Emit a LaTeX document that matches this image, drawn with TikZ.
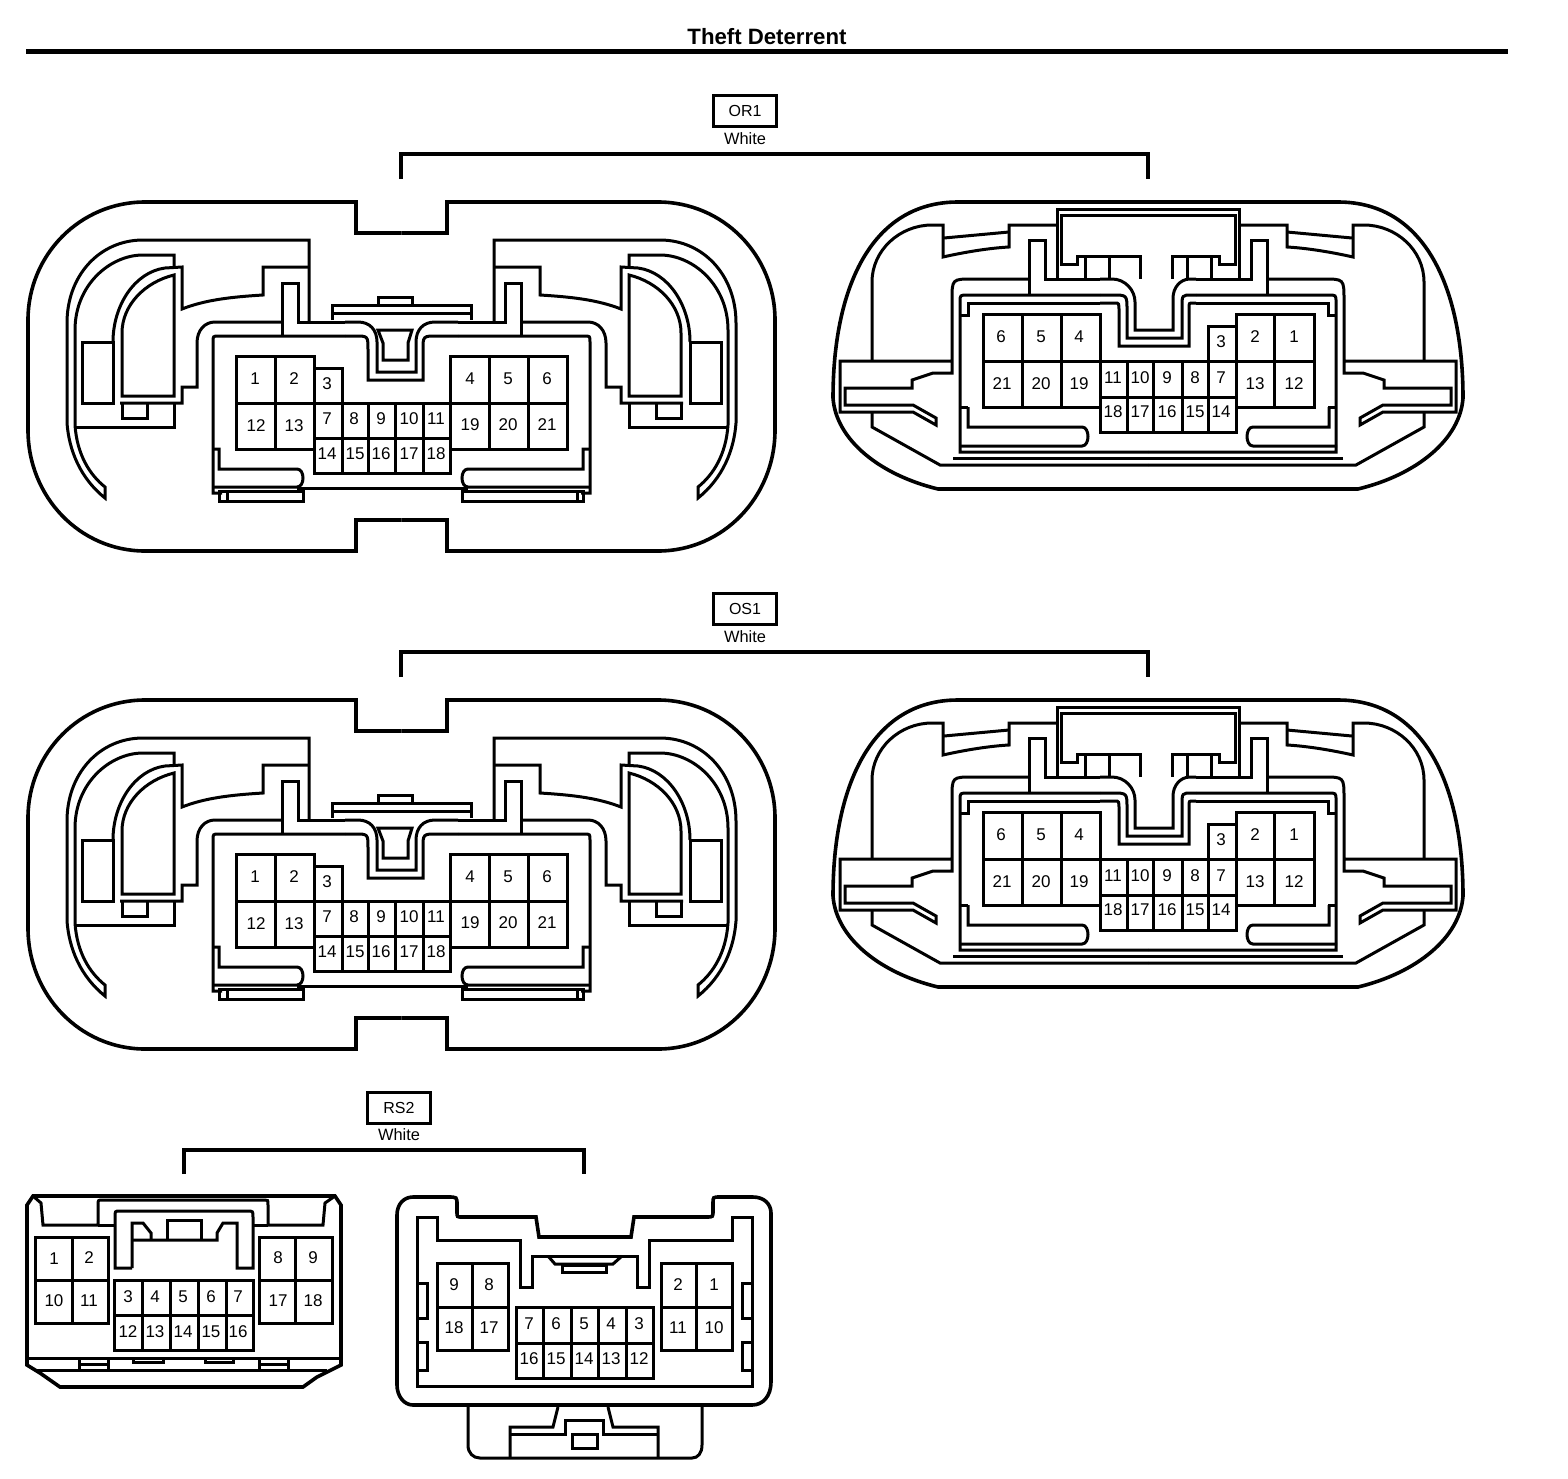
\documentclass[tikz,border=0pt]{standalone}
\usepackage{fontspec}
\setmainfont{Liberation Sans}
\tikzset{
  heavy/.style={line width=1.5pt, line join=miter},
  shell/.style={line width=1.8pt},
  bracket/.style={line width=2pt},
  cavity/.style={inner sep=0pt, font=\fontsize{8.5}{10}\selectfont},
  tagbox/.style={draw, line width=1.7pt, inner sep=0pt, minimum width=31.5pt, minimum height=15.5pt, font=\fontsize{8}{10}\selectfont},
  colour/.style={inner sep=0pt, font=\fontsize{8.2}{10}\selectfont}
}
\newcommand{\mirror}[2]{\begin{scope}[shift={(#1,0)},xscale=-1]#2\end{scope}}

% one half of the big connector, front
\newcommand{\halfA}{
\draw[shell] (401.5,233) -- (356,233) -- (356,202) -- (145,202) .. controls (80,202) and (28,255) .. (28,320) -- (28,430) .. controls (28,497) and (80,551) .. (145,551) -- (356,551) -- (356,520) -- (401.5,520);
\draw[heavy] (309,322) -- (309,240) -- (143,240) .. controls (100,240) and (67,275) .. (67,323) -- (67,423) .. controls (69,450) and (80,478) .. (105,498) -- (105,487) .. controls (90,475) and (77,455) .. (75,425) -- (75,330) .. controls (75,285) and (110,255) .. (143,255) -- (174,255) -- (174,268);
\draw[heavy] (113,342) .. controls (113,305) and (135,272) .. (165,268) -- (182,267) -- (182,309) .. controls (205,300) and (230,297) .. (263,295) -- (263,267) -- (309,267);
\draw[heavy] (82,342) rectangle (113,403);
\draw[heavy] (174,275) .. controls (145,282) and (122,305) .. (122,333) -- (122,396) -- (174,396) -- cycle;
\draw[heavy] (120,403) -- (182,403) -- (182,387) -- (197,387) -- (197,343) .. controls (197,330) and (205,322) .. (215,322) -- (282,322);
\draw[heavy] (122,403) -- (122,418) -- (147,418) -- (147,403);
\draw[heavy] (174,403) -- (174,427) -- (75,427);
\draw[heavy] (282,335) -- (282,283) -- (298,283) -- (298,322) -- (345,322);
\draw[heavy] (345,336) -- (219,336) .. controls (213,336) .. (213,342) -- (213,493) -- (222,493);
}
% cavities of the big connector, front
\newcommand{\cavitiesA}{
\draw[heavy] (236,356) rectangle (314,449);
\draw[heavy] (275,356) -- (275,449);
\draw[heavy] (236,403) -- (450,403);
\draw[heavy] (314,368) -- (342,368) -- (342,403);
\draw[heavy] (314,356) -- (314,473) -- (450,473) -- (450,356) -- (567,356) -- (567,449) -- (450,449);
\draw[heavy] (314,438) -- (450,438);
\draw[heavy] (489,356) -- (489,449);
\draw[heavy] (528,356) -- (528,449);
\draw[heavy] (450,403) -- (567,403);
\foreach \x in {342,368,395,423} \draw[heavy] (\x,403) -- (\x,473);
\foreach \n/\x/\y in {1/255/379,2/294/379,12/256/426,13/294/426,3/327/384,
  7/327/419,8/354/419,9/381/419,10/409/419,11/436/419,
  14/327/454,15/355/454,16/381/454,17/409/454,18/436/454,
  4/470/379,5/508/379,6/547/379,19/470/425,20/508/425,21/547/425}
  \node[cavity] (a\n) at (\x,\y) {\n};
}
\newcommand{\connA}{
\halfA
\mirror{803}{\halfA}
%slots
\draw[heavy] (213,449) -- (219,449) -- (219,469) -- (297,469) .. controls (305,469) and (305,487) .. (297,487) -- (213,487);
\draw[heavy] (590,449) -- (583,449) -- (583,469) -- (468,469) .. controls (460,469) and (460,487) .. (468,487) -- (590,487);
\draw[heavy] (297,488) -- (468,488);
\draw[heavy] (219,491) rectangle (303,501);
\draw[heavy] (227,491) -- (227,501);
\draw[heavy] (462,491) rectangle (583,501);
\draw[heavy] (577,491) -- (577,501);
%plug
\draw[heavy] (345,322) -- (358,322) .. controls (370,322) and (377,330) .. (377,342) -- (377,372) -- (416,372) -- (416,342) .. controls (416,330) and (423,322) .. (435,322) -- (458,322);
\draw[heavy] (345,336) -- (355,336) .. controls (368,336) .. (368,350) -- (368,380) -- (423,380) -- (423,350) .. controls (423,336) .. (437,336) -- (458,336);
\draw[heavy] (332,320) -- (332,305) -- (471,305) -- (471,320);
\draw[heavy] (332,313) -- (471,313);
\draw[heavy] (378,305) -- (378,297) -- (412,297) -- (412,305);
\draw[heavy] (378,330) -- (412,330) -- (408,343) -- (408,360) -- (383,360) -- (383,343) -- cycle;
\cavitiesA
}

% one half of the big connector, back
\newcommand{\halfB}{
\draw[shell] (1148,202) -- (958,202) .. controls (870,202) and (833,290) .. (833,398) .. controls (836,440) and (880,475) .. (938,489) -- (1148,489);
\draw[heavy] (872,361) -- (872,282) .. controls (872,250) and (900,225) .. (932,225) -- (943,225) -- (943,257) .. controls (965,252) and (990,248) .. (1009,247) -- (1009,225) -- (1057,225);
\draw[heavy] (944,238) -- (1009,232);
\draw[heavy] (1148,209) -- (1057,209) -- (1057,279);
\draw[heavy] (1148,215) -- (1061,215) -- (1061,264) -- (1077,264) -- (1077,256) -- (1109,256);
\draw[heavy] (1085,256) -- (1085,279);
\draw[heavy] (1109,256) -- (1109,279);
\draw[heavy] (1029,295) -- (1029,240) -- (1045,240) -- (1045,279) -- (1100,279);
\draw[heavy] (1029,279) -- (973,279) .. controls (952,279) .. (952,300) -- (952,373) -- (933,373) -- (912,380) -- (912,388) -- (845,388) -- (845,405) -- (913,405) -- (936,418) -- (936,425) -- (913,412) -- (840,412) -- (840,361) -- (952,361);
\draw[heavy] (872,413) -- (872,427) -- (940,465) -- (1148,465);
\draw[heavy] (1148,452) -- (960,452) -- (960,302) .. controls (960,295) .. (968,295) -- (1100,295);
\draw[heavy] (960,315) -- (968,315) -- (968,303) -- (1100,303);
\draw[heavy] (960,407) -- (968,407);
\draw[heavy] (953,458) -- (1148,458);
}
% cavities of the big connector, back
\newcommand{\cavitiesB}{
\draw[heavy] (983,314) rectangle (1100,407);
\draw[heavy] (1022,314) -- (1022,407);
\draw[heavy] (1061,314) -- (1061,407);
\draw[heavy] (983,361) -- (1314,361);
\draw[heavy] (1100,361) -- (1100,432) -- (1236,432) -- (1236,314) -- (1314,314) -- (1314,407) -- (1236,407);
\draw[heavy] (1274,314) -- (1274,407);
\draw[heavy] (1208,361) -- (1208,326) -- (1236,326);
\draw[heavy] (1100,397) -- (1236,397);
\foreach \x in {1127,1153,1182,1208} \draw[heavy] (\x,361) -- (\x,432);
\foreach \n/\x/\y in {6/1001/337,5/1041/337,4/1079/337,21/1002/384,20/1041/384,19/1079/384,
  11/1113/378,10/1140/378,9/1167/378,8/1195/378,7/1221/378,
  18/1113/412,17/1140/412,16/1167/412,15/1195/412,14/1221/412,
  3/1221/342,2/1255/337,1/1294/337,13/1255/384,12/1294/384}
  \node[cavity] (b\n) at (\x,\y) {\n};
}
\newcommand{\connB}{
\halfB
\mirror{2296}{\halfB}
%slots
\draw[heavy] (968,407) -- (968,427) -- (1082,427) .. controls (1090,427) and (1090,446) .. (1082,446) -- (960,446);
\draw[heavy] (1329,407) -- (1329,427) -- (1253,427) .. controls (1245,427) and (1245,446) .. (1253,446) -- (1337,446);
%latch
\draw[heavy] (1109,256) -- (1140,256) -- (1140,279);
\draw[heavy] (1187,256) -- (1172,256) -- (1172,279);
\draw[heavy] (1100,279) -- (1112,279) .. controls (1125,279) and (1135,290) .. (1135,302) -- (1135,330) -- (1173,330) -- (1173,298) .. controls (1173,288) and (1180,279) .. (1190,279) -- (1196,279);
\draw[heavy] (1100,295) -- (1112,295) .. controls (1127,295) .. (1127,310) -- (1127,338) -- (1182,338) -- (1182,307) .. controls (1182,295) .. (1192,295) -- (1196,295);
\draw[heavy] (1100,303) -- (1115,303) .. controls (1119,303) .. (1119,312) -- (1119,346) -- (1189,346) -- (1189,308) .. controls (1189,303) .. (1193,303) -- (1196,303);
\cavitiesB
}

\begin{document}
\begin{tikzpicture}[x=0.5pt,y=-0.5pt]
\useasboundingbox (0,0) rectangle (1568,1478);
\node[inner sep=0pt, font=\fontsize{11.1}{14}\bfseries\selectfont] (title) at (767,37) {Theft Deterrent};
\coordinate (ruleL) at (26,51.5);
\coordinate (ruleR) at (1508,51.5);
\draw[line width=2.3pt] (ruleL) -- (ruleR);
%OR1
\node[tagbox] (or1) at (745,111) {OR1};
\node[colour] (or1c) at (745,139) {White};
\coordinate (or1L) at (401,179);
\coordinate (or1R) at (1148,179);
\draw[bracket] (or1L) -- (401,154) -- (1148,154) -- (or1R);
\begin{scope}[name prefix=or1-]
\connA
\connB
\end{scope}
%OS1
\node[tagbox] (os1) at (745,609) {OS1};
\node[colour] (os1c) at (745,637) {White};
\coordinate (os1L) at (401,677);
\coordinate (os1R) at (1148,677);
\draw[bracket] (os1L) -- (401,652) -- (1148,652) -- (os1R);
\begin{scope}[shift={(0,498)},name prefix=os1-]
\connA
\connB
\end{scope}
%RS2
\node[tagbox] (rs2) at (399,1108) {RS2};
\node[colour] (rs2c) at (399,1135) {White};
\coordinate (rs2L) at (184,1174);
\coordinate (rs2R) at (584,1174);
\draw[bracket] (rs2L) -- (184,1150) -- (584,1150) -- (rs2R);
%RS2 left
\draw[shell] (27,1205) -- (33,1196) -- (335,1196) -- (341,1205) -- (341,1365) -- (317,1377) -- (303,1387) -- (60,1387) -- (40,1373) -- (27,1365) -- cycle;
\draw[heavy] (27,1358) -- (341,1358);
\draw[heavy] (37,1370) -- (327,1370);
\draw[heavy] (33,1196) -- (41,1203) -- (43,1225) -- (98,1225) -- (98,1205) .. controls (98,1200) .. (103,1200) -- (265,1200) .. controls (268,1200) .. (268,1205) -- (268,1225) -- (323,1225) -- (325,1203) -- (335,1196);
\draw[heavy] (98,1225) -- (115,1225);
\draw[heavy] (253,1225) -- (268,1225);
\draw[heavy] (132,1268) -- (115,1268) -- (115,1217) .. controls (115,1211) .. (120,1211) -- (247,1211) .. controls (253,1211) .. (253,1217) -- (253,1268) -- (237,1268) -- (237,1223) -- (223,1223) -- (217,1233) -- (217,1240) -- (132,1240);
\draw[heavy] (132,1268) -- (132,1223) -- (143,1223) -- (151,1233) -- (151,1240);
\draw[heavy] (167,1240) -- (167,1220) -- (201,1220) -- (201,1240);
\draw[heavy] (79,1358) rectangle (108,1370);
\draw[heavy] (79,1364) -- (108,1364);
\draw[heavy] (259,1358) rectangle (288,1370);
\draw[heavy] (259,1364) -- (288,1364);
\draw[heavy] (133,1358) rectangle (163,1362);
\draw[heavy] (205,1358) rectangle (233,1362);
\draw[heavy] (35,1237) rectangle (108,1323);
\draw[heavy] (72,1237) -- (72,1323);
\draw[heavy] (35,1280) -- (108,1280);
\draw[heavy] (114,1280) rectangle (253,1350);
\draw[heavy] (114,1315) -- (253,1315);
\foreach \x in {142,170,198,226} \draw[heavy] (\x,1280) -- (\x,1350);
\draw[heavy] (259,1237) rectangle (332,1323);
\draw[heavy] (295,1237) -- (295,1323);
\draw[heavy] (259,1280) -- (332,1280);
\foreach \n/\x/\y in {1/54/1259,2/89/1258,10/54/1301,11/89/1301,
  3/128/1297,4/155/1297,5/183/1297,6/211/1297,7/238/1297,
  12/128/1332,13/155/1332,14/183/1332,15/211/1332,16/238/1332,
  8/278/1258,9/313/1258,17/278/1301,18/313/1301}
  \node[cavity] (c\n) at (\x,\y) {\n};
%RS2 right
\draw[shell] (397,1215) .. controls (397,1204) and (404,1197) .. (413,1197) -- (448,1197) .. controls (457,1197) .. (457,1205) -- (457,1212) .. controls (457,1217) .. (462,1217) -- (536,1217) -- (539,1237) -- (631,1237) -- (634,1217) -- (707,1217) .. controls (713,1217) .. (713,1210) -- (713,1203) .. controls (713,1197) .. (720,1197) -- (753,1197) .. controls (764,1197) and (771,1204) .. (771,1213) -- (771,1382) .. controls (771,1396) and (763,1405) .. (752,1405) -- (413,1405) .. controls (404,1405) and (397,1396) .. (397,1385) -- cycle;
\draw[heavy] (417,1217) -- (437,1217) -- (437,1240) -- (520,1240) -- (520,1287) -- (532,1287) -- (532,1256) -- (637,1256) -- (637,1287) -- (649,1287) -- (649,1240) -- (732,1240) -- (732,1217) -- (752,1217) -- (752,1386) -- (417,1386) -- cycle;
\draw[heavy] (548,1256) -- (555,1264) -- (613,1264) -- (622,1256);
\draw[heavy] (562,1265) rectangle (606,1272);
\draw[heavy] (417,1283) -- (427,1283) -- (427,1318) -- (417,1318);
\draw[heavy] (417,1342) -- (427,1342) -- (427,1370) -- (417,1370);
\draw[heavy] (752,1283) -- (742,1283) -- (742,1318) -- (752,1318);
\draw[heavy] (752,1342) -- (742,1342) -- (742,1370) -- (752,1370);
\draw[heavy] (437,1263) rectangle (508,1350);
\draw[heavy] (472,1263) -- (472,1350);
\draw[heavy] (437,1307) -- (508,1307);
\draw[heavy] (516,1307) rectangle (653,1378);
\draw[heavy] (516,1343) -- (653,1343);
\foreach \x in {543,571,598,626} \draw[heavy] (\x,1307) -- (\x,1378);
\draw[heavy] (661,1263) rectangle (732,1350);
\draw[heavy] (696,1263) -- (696,1350);
\draw[heavy] (661,1307) -- (732,1307);
\foreach \n/\x/\y in {9/454/1285,8/489/1285,18/454/1328,17/489/1328,
  7/529/1324,6/556/1324,5/584/1324,4/611/1324,3/639/1324,
  16/529/1359,15/556/1359,14/584/1359,13/611/1359,12/639/1359,
  2/678/1285,1/714/1285,11/678/1328,10/714/1328}
  \node[cavity] (d\n) at (\x,\y) {\n};
\draw[heavy] (468,1405) -- (468,1445) .. controls (468,1453) and (473,1458) .. (480,1458) -- (692,1458) .. controls (698,1458) and (702,1453) .. (702,1445) -- (702,1405);
\draw[heavy] (558,1407) -- (553,1427) -- (510,1427) -- (510,1458);
\draw[heavy] (608,1407) -- (613,1427) -- (658,1427) -- (658,1458);
\draw[heavy] (510,1434) -- (565,1434) -- (565,1420) -- (603,1420) -- (603,1434) -- (658,1434);
\draw[heavy] (572,1434) rectangle (597,1448);
\end{tikzpicture}
\end{document}
